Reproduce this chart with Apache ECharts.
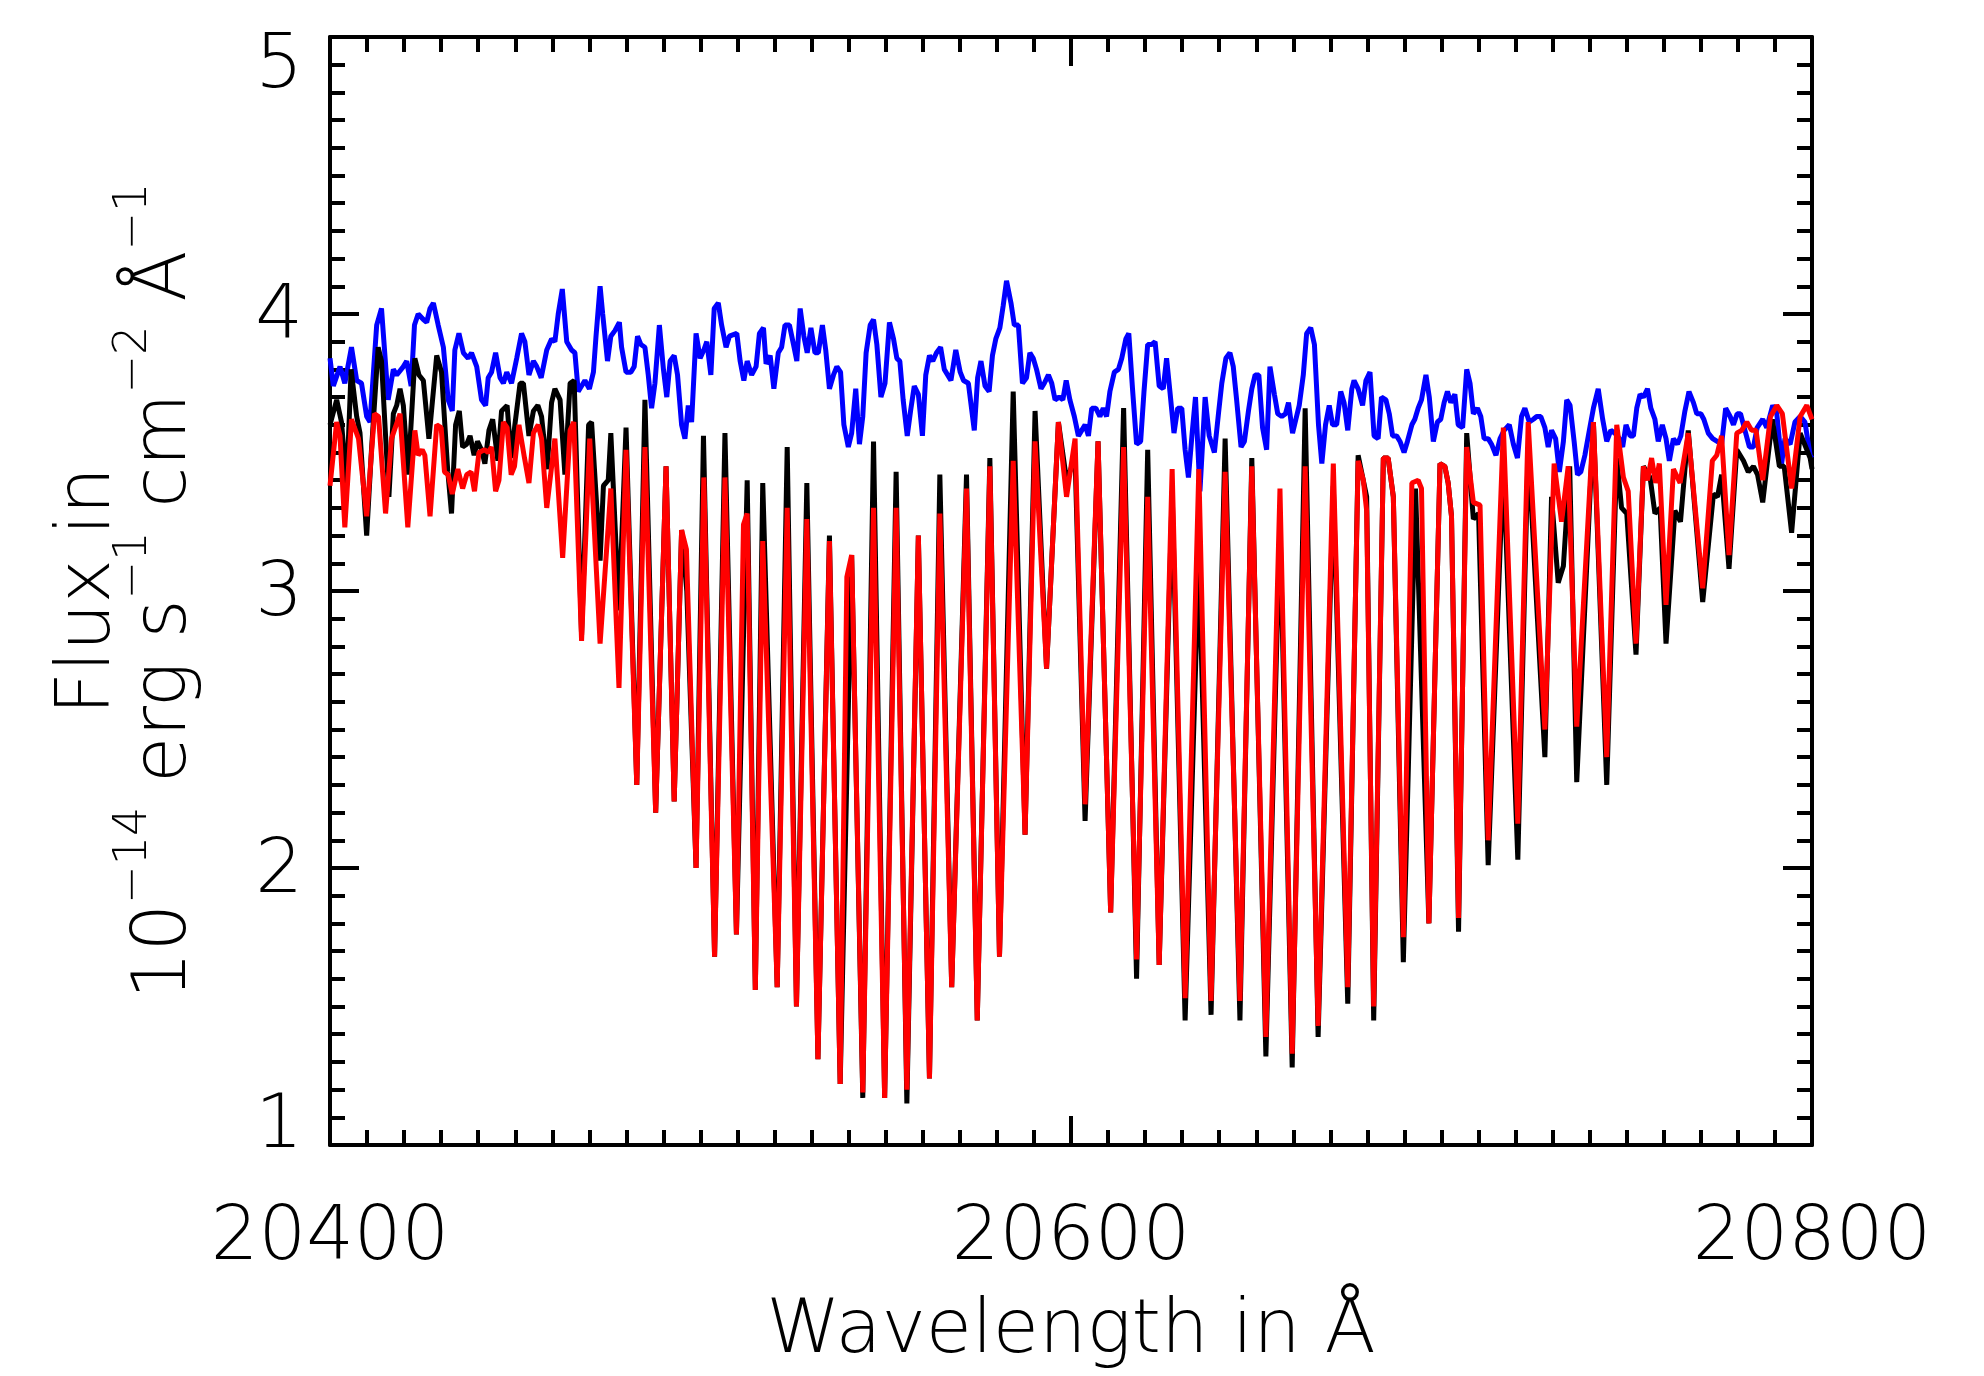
<!DOCTYPE html>
<html>
<head>
<meta charset="utf-8">
<script src="https://cdn.jsdelivr.net/npm/echarts@6/dist/echarts.min.js"></script>
<style>
html,body{margin:0;padding:0;background:#fff;}
#chart{width:1984px;height:1376px;}
</style>
</head>
<body>
<div id="chart"></div>
<script>
// ---------------- data (wavelength in Å, flux in 1e-14 erg s^-1 cm^-2 Å^-1) ----------------
const xRange = [20400, 20800];
const yRange = [1, 5];
const xTickStep = 200;
const yTickStep = 1;

const blueSpectrum = [
[20400.0,3.84],[20400.9,3.74],[20402.7,3.81],[20404.0,3.75],[20405.8,3.88],[20407.2,3.76],[20408.5,3.75],[20409.9,3.63],
[20410.8,3.61],[20412.6,3.96],[20413.9,4.02],[20415.7,3.69],[20417.1,3.80],[20418.0,3.78],[20419.8,3.81],[20420.7,3.83],
[20421.9,3.74],[20422.8,3.96],[20423.8,4.00],[20425.2,3.98],[20426.1,3.97],[20427.0,4.02],[20427.9,4.04],[20429.2,3.96],
[20430.6,3.88],[20431.9,3.69],[20433.0,3.65],[20433.7,3.87],[20434.8,3.93],[20436.0,3.86],[20437.3,3.84],[20438.2,3.86],
[20439.6,3.81],[20440.9,3.69],[20442.0,3.67],[20442.7,3.77],[20443.6,3.79],[20444.7,3.86],[20445.9,3.77],[20446.8,3.75],
[20447.7,3.79],[20449.0,3.75],[20450.4,3.84],[20451.7,3.93],[20452.6,3.90],[20453.7,3.78],[20454.9,3.83],[20455.8,3.81],
[20457.0,3.77],[20458.5,3.87],[20459.8,3.91],[20460.7,3.90],[20461.6,4.00],[20462.7,4.09],[20463.9,3.90],[20465.2,3.87],
[20466.1,3.86],[20467.0,3.72],[20468.8,3.76],[20470.0,3.73],[20471.1,3.79],[20471.8,3.92],[20472.9,4.10],[20473.6,4.00],
[20474.9,3.83],[20475.8,3.92],[20476.9,3.94],[20478.1,3.97],[20478.7,3.88],[20479.9,3.79],[20481.2,3.79],[20482.1,3.81],
[20483.0,3.92],[20483.9,3.89],[20485.0,3.88],[20485.9,3.78],[20486.8,3.66],[20487.7,3.75],[20488.9,3.96],[20490.0,3.80],
[20490.9,3.70],[20491.8,3.83],[20492.9,3.85],[20493.8,3.78],[20494.9,3.60],[20495.8,3.55],[20496.7,3.67],[20497.6,3.61],
[20498.8,3.93],[20499.9,3.84],[20500.9,3.87],[20501.7,3.90],[20502.8,3.78],[20503.7,4.02],[20504.8,4.04],[20505.7,3.96],
[20506.9,3.88],[20507.8,3.92],[20509.8,3.93],[20510.7,3.83],[20511.7,3.76],[20512.6,3.83],[20513.8,3.78],[20515.0,3.81],
[20515.9,3.93],[20517.0,3.95],[20517.7,3.82],[20518.8,3.85],[20519.8,3.73],[20521.0,3.86],[20521.9,3.88],[20522.8,3.96],
[20524.0,3.96],[20525.1,3.89],[20526.0,3.83],[20526.9,4.02],[20527.9,3.92],[20528.8,3.86],[20529.8,3.95],[20530.9,3.86],
[20531.8,3.86],[20532.9,3.96],[20533.8,3.87],[20534.8,3.73],[20535.9,3.78],[20536.8,3.81],[20537.8,3.79],[20538.7,3.60],
[20539.9,3.52],[20540.8,3.57],[20541.9,3.73],[20542.9,3.53],[20543.8,3.63],[20544.7,3.86],[20545.8,3.96],[20546.7,3.98],
[20547.6,3.89],[20548.7,3.70],[20549.8,3.75],[20551.0,3.97],[20552.1,3.91],[20553.0,3.84],[20553.8,3.83],[20554.7,3.69],
[20555.8,3.56],[20556.7,3.65],[20557.7,3.74],[20558.8,3.71],[20559.9,3.56],[20560.8,3.78],[20561.8,3.85],[20562.7,3.83],
[20563.7,3.86],[20564.8,3.88],[20565.8,3.80],[20567.6,3.76],[20568.9,3.87],[20570.1,3.79],[20571.0,3.76],[20572.3,3.75],
[20573.9,3.58],[20574.8,3.77],[20575.7,3.83],[20576.8,3.74],[20577.9,3.72],[20578.8,3.85],[20579.7,3.91],[20580.8,3.95],
[20581.7,4.03],[20582.6,4.12],[20583.8,4.04],[20584.7,3.96],[20585.8,3.96],[20586.9,3.75],[20588.0,3.77],[20588.9,3.86],
[20589.8,3.84],[20590.7,3.80],[20591.9,3.73],[20592.8,3.75],[20593.9,3.78],[20594.8,3.75],[20595.7,3.69],[20596.8,3.70],
[20597.8,3.69],[20598.7,3.76],[20599.7,3.69],[20600.9,3.63],[20602.0,3.56],[20602.9,3.58],[20603.8,3.60],[20604.7,3.56],
[20605.6,3.66],[20606.7,3.66],[20607.8,3.63],[20608.7,3.66],[20609.6,3.63],[20610.5,3.72],[20611.7,3.79],[20612.8,3.80],
[20613.7,3.84],[20614.8,3.91],[20615.6,3.93],[20616.6,3.73],[20617.7,3.53],[20618.8,3.54],[20619.7,3.72],[20620.7,3.89],
[20621.8,3.89],[20622.7,3.90],[20623.8,3.74],[20624.9,3.73],[20625.8,3.84],[20626.7,3.72],[20627.8,3.57],[20628.8,3.66],
[20629.9,3.66],[20630.8,3.51],[20631.7,3.41],[20632.7,3.57],[20633.6,3.70],[20634.8,3.36],[20636.2,3.70],[20637.3,3.56],
[20638.7,3.50],[20639.8,3.64],[20640.7,3.75],[20641.8,3.84],[20642.9,3.86],[20643.8,3.81],[20644.7,3.69],[20645.9,3.52],
[20646.8,3.54],[20647.9,3.65],[20648.8,3.73],[20649.7,3.78],[20650.7,3.78],[20651.7,3.59],[20652.8,3.51],[20653.7,3.81],
[20654.9,3.71],[20655.8,3.64],[20656.9,3.63],[20657.9,3.64],[20658.7,3.68],[20659.8,3.57],[20660.7,3.62],[20661.6,3.67],
[20662.7,3.78],[20663.6,3.93],[20664.7,3.95],[20665.7,3.89],[20666.8,3.60],[20667.7,3.46],[20668.7,3.60],[20669.7,3.67],
[20670.6,3.60],[20671.7,3.60],[20672.8,3.72],[20673.7,3.68],[20674.7,3.58],[20675.8,3.73],[20676.4,3.76],[20677.5,3.73],
[20678.7,3.67],[20679.6,3.76],[20680.7,3.79],[20681.8,3.56],[20682.9,3.55],[20683.8,3.70],[20685.0,3.69],[20685.9,3.64],
[20686.8,3.56],[20687.9,3.56],[20688.8,3.54],[20689.9,3.50],[20690.8,3.54],[20692.0,3.60],[20692.8,3.62],[20693.7,3.66],
[20694.6,3.69],[20695.8,3.78],[20696.7,3.70],[20697.8,3.54],[20698.9,3.61],[20699.8,3.62],[20700.7,3.68],[20701.6,3.72],
[20702.5,3.68],[20703.6,3.71],[20704.5,3.60],[20705.7,3.59],[20706.8,3.80],[20707.7,3.75],[20708.6,3.64],[20709.7,3.66],
[20710.6,3.63],[20711.5,3.55],[20712.6,3.55],[20713.5,3.53],[20714.7,3.49],[20715.8,3.55],[20716.9,3.58],[20718.3,3.60],
[20719.4,3.53],[20720.5,3.48],[20721.6,3.63],[20722.5,3.66],[20723.7,3.61],[20724.8,3.62],[20725.7,3.63],[20726.8,3.63],
[20727.9,3.59],[20728.8,3.52],[20729.7,3.58],[20730.8,3.55],[20731.8,3.43],[20732.9,3.54],[20733.8,3.69],[20734.7,3.67],
[20735.8,3.54],[20736.7,3.42],[20737.6,3.43],[20738.7,3.49],[20739.9,3.58],[20741.0,3.66],[20742.3,3.73],[20743.5,3.62],
[20744.6,3.54],[20745.7,3.58],[20746.8,3.57],[20748.0,3.55],[20748.9,3.52],[20749.8,3.60],[20750.9,3.56],[20751.8,3.56],
[20752.7,3.66],[20753.6,3.71],[20754.5,3.70],[20755.6,3.73],[20756.5,3.66],[20757.6,3.62],[20758.5,3.54],[20759.6,3.60],
[20760.6,3.55],[20761.5,3.47],[20762.6,3.55],[20763.7,3.53],[20764.6,3.56],[20765.7,3.65],[20766.8,3.72],[20768.0,3.68],
[20768.9,3.64],[20770.0,3.64],[20770.8,3.62],[20772.0,3.57],[20773.2,3.55],[20774.4,3.54],[20775.6,3.53],[20776.7,3.66],
[20777.9,3.63],[20778.8,3.60],[20779.8,3.64],[20780.7,3.64],[20781.9,3.58],[20783.1,3.52],[20784.2,3.52],[20785.2,3.59],
[20786.7,3.62],[20787.8,3.59],[20789.4,3.67],[20790.5,3.64],[20791.8,3.46],[20792.7,3.55],[20794.1,3.53],[20795.4,3.61],
[20796.8,3.63],[20798.1,3.61],[20799.5,3.49],[20800.0,3.48]
];

const blackSpectrum = [
[20400.0,3.60],[20401.8,3.69],[20403.1,3.61],[20404.5,3.38],[20405.7,3.80],[20407.2,3.63],[20408.1,3.57],[20409.9,3.20],
[20411.2,3.51],[20413.0,3.88],[20413.9,3.83],[20415.9,3.34],[20417.1,3.64],[20418.0,3.67],[20418.9,3.73],[20419.8,3.67],
[20421.1,3.42],[20422.9,3.84],[20424.0,3.78],[20425.2,3.76],[20426.7,3.55],[20428.8,3.85],[20430.1,3.79],[20431.8,3.43],
[20432.8,3.28],[20433.9,3.60],[20434.9,3.65],[20435.8,3.52],[20436.9,3.53],[20437.8,3.56],[20438.9,3.49],[20439.8,3.54],
[20440.9,3.51],[20441.8,3.46],[20442.9,3.58],[20443.9,3.62],[20445.3,3.47],[20446.3,3.65],[20447.8,3.67],[20448.9,3.48],
[20449.9,3.60],[20451.3,3.75],[20452.2,3.75],[20453.7,3.56],[20454.9,3.65],[20456.1,3.67],[20457.1,3.63],[20458.6,3.44],
[20459.8,3.68],[20460.7,3.73],[20462.1,3.69],[20463.4,3.42],[20464.8,3.75],[20465.9,3.76],[20467.9,2.84],[20469.8,3.60],
[20470.6,3.61],[20472.9,3.11],[20473.8,3.38],[20475.1,3.40],[20475.8,3.57],[20478.0,2.93],[20479.9,3.59],[20482.8,2.30],
[20485.0,3.69],[20487.9,2.20],[20490.7,3.45],[20492.9,2.24],[20494.9,3.22],[20496.3,3.00],[20498.8,2.00],[20500.8,3.56],
[20503.8,1.68],[20506.6,3.57],[20509.7,1.76],[20512.6,3.40],[20514.8,1.56],[20516.8,3.39],[20520.7,1.57],[20523.4,3.52],
[20525.9,1.50],[20528.7,3.39],[20531.7,1.31],[20534.8,3.20],[20537.7,1.22],[20540.8,3.13],[20543.8,1.17],[20546.7,3.54],
[20549.7,1.17],[20552.8,3.43],[20555.7,1.15],[20558.8,3.20],[20561.8,1.24],[20564.6,3.42],[20567.8,1.57],[20571.8,3.42],
[20574.7,1.45],[20578.1,3.48],[20580.7,1.68],[20584.4,3.72],[20587.6,2.12],[20590.3,3.65],[20593.4,2.72],[20596.6,3.61],
[20598.8,3.40],[20601.1,3.48],[20603.8,2.17],[20607.3,3.54],[20610.7,1.84],[20614.2,3.66],[20617.7,1.60],[20620.7,3.51],
[20623.8,1.65],[20627.3,3.36],[20630.8,1.45],[20634.5,3.12],[20637.8,1.47],[20641.6,3.55],[20645.6,1.45],[20648.8,3.48],
[20652.6,1.32],[20656.4,3.25],[20659.7,1.28],[20663.2,3.66],[20666.7,1.39],[20670.8,3.38],[20674.7,1.51],[20677.5,3.49],
[20679.8,3.34],[20681.7,1.45],[20684.3,3.48],[20685.6,3.48],[20687.0,3.34],[20689.7,1.66],[20693.0,3.37],[20696.6,1.80],
[20699.6,3.46],[20700.9,3.45],[20701.8,3.39],[20702.7,3.27],[20704.6,1.77],[20706.8,3.57],[20708.6,3.26],[20710.0,3.28],
[20712.6,2.01],[20716.7,3.46],[20720.6,2.03],[20723.4,3.52],[20727.9,2.40],[20729.7,3.34],[20731.5,3.03],[20732.9,3.09],
[20734.6,3.45],[20736.5,2.31],[20741.0,3.61],[20744.6,2.30],[20747.3,3.48],[20748.6,3.30],[20750.0,3.28],[20752.5,2.77],
[20754.5,3.45],[20756.3,3.41],[20757.6,3.28],[20759.0,3.30],[20760.6,2.81],[20763.0,3.29],[20764.5,3.25],[20766.6,3.58],
[20770.5,2.96],[20773.4,3.35],[20774.5,3.34],[20775.6,3.42],[20777.6,3.08],[20779.7,3.51],[20781.5,3.47],[20782.8,3.43],
[20784.2,3.45],[20785.3,3.42],[20786.7,3.32],[20789.3,3.62],[20791.2,3.45],[20792.5,3.45],[20794.5,3.21],[20796.8,3.57],
[20799.5,3.48],[20800.0,3.44]
];

const redSpectrum = [
[20400.0,3.38],[20401.8,3.61],[20402.7,3.56],[20404.0,3.23],[20405.8,3.62],[20407.7,3.55],[20409.9,3.27],[20412.0,3.64],
[20413.1,3.63],[20415.0,3.28],[20416.6,3.55],[20418.9,3.64],[20421.0,3.23],[20422.9,3.58],[20423.8,3.49],[20424.9,3.51],
[20425.6,3.49],[20427.0,3.27],[20428.8,3.60],[20430.0,3.59],[20430.9,3.43],[20431.9,3.42],[20433.0,3.35],[20434.5,3.44],
[20435.8,3.37],[20436.9,3.42],[20438.1,3.43],[20439.0,3.36],[20440.2,3.50],[20441.7,3.51],[20442.7,3.50],[20443.6,3.52],
[20444.7,3.36],[20445.6,3.40],[20446.8,3.61],[20447.8,3.59],[20448.9,3.42],[20449.8,3.45],[20451.0,3.60],[20452.5,3.48],
[20453.7,3.39],[20454.9,3.57],[20456.2,3.60],[20457.1,3.55],[20458.5,3.30],[20460.7,3.55],[20462.8,3.12],[20464.8,3.58],
[20465.8,3.61],[20467.9,2.82],[20470.1,3.55],[20472.9,2.81],[20475.8,3.37],[20478.0,2.65],[20479.9,3.51],[20482.8,2.30],
[20485.0,3.52],[20487.9,2.20],[20490.7,3.45],[20492.9,2.24],[20494.9,3.22],[20496.2,3.15],[20498.8,2.00],[20500.9,3.41],
[20503.8,1.68],[20506.6,3.41],[20509.7,1.76],[20511.6,3.24],[20512.6,3.28],[20514.8,1.56],[20516.8,3.18],[20520.7,1.57],
[20523.4,3.30],[20525.9,1.50],[20528.7,3.26],[20531.7,1.31],[20534.8,3.18],[20537.7,1.22],[20539.5,3.05],[20540.8,3.13],
[20543.8,1.19],[20546.7,3.30],[20549.7,1.17],[20552.8,3.30],[20555.7,1.20],[20558.8,3.20],[20561.8,1.24],[20564.6,3.28],
[20567.8,1.57],[20571.8,3.37],[20574.7,1.45],[20578.1,3.45],[20580.7,1.68],[20584.4,3.47],[20587.6,2.12],[20590.3,3.54],
[20593.4,2.72],[20596.6,3.61],[20598.8,3.34],[20601.1,3.55],[20603.8,2.23],[20607.3,3.54],[20610.7,1.84],[20614.2,3.52],
[20617.7,1.67],[20620.7,3.34],[20623.8,1.65],[20627.3,3.44],[20630.8,1.53],[20634.5,3.44],[20637.8,1.52],[20641.6,3.43],
[20645.6,1.52],[20648.8,3.45],[20652.6,1.39],[20656.4,3.37],[20659.7,1.33],[20663.2,3.45],[20666.7,1.43],[20670.8,3.46],
[20674.7,1.57],[20677.5,3.47],[20678.9,3.40],[20679.8,3.29],[20681.7,1.50],[20684.3,3.48],[20685.6,3.48],[20687.0,3.34],
[20689.7,1.75],[20692.0,3.39],[20693.7,3.40],[20694.6,3.37],[20696.6,1.80],[20699.6,3.46],[20700.9,3.45],[20701.8,3.39],
[20702.7,3.27],[20704.6,1.82],[20706.8,3.52],[20708.6,3.32],[20710.4,3.31],[20712.6,2.10],[20716.7,3.59],[20720.6,2.16],
[20723.4,3.61],[20727.9,2.50],[20730.4,3.46],[20732.4,3.25],[20734.2,3.45],[20736.5,2.51],[20741.0,3.61],[20744.6,2.40],
[20747.3,3.60],[20749.1,3.41],[20750.4,3.36],[20752.5,2.81],[20754.5,3.45],[20755.6,3.40],[20756.7,3.48],[20757.8,3.39],
[20758.8,3.46],[20760.6,2.95],[20762.6,3.44],[20764.4,3.39],[20766.6,3.57],[20770.5,3.01],[20773.1,3.47],[20774.3,3.49],
[20775.6,3.56],[20777.6,3.13],[20779.7,3.57],[20781.0,3.58],[20782.4,3.61],[20783.7,3.58],[20784.9,3.58],[20786.7,3.40],
[20788.8,3.63],[20790.5,3.67],[20792.0,3.64],[20794.5,3.37],[20796.8,3.63],[20798.6,3.67],[20800.0,3.62]
];

const xAxisTitle = 'Wavelength in Å';
// y title: "Flux in" / 10^-14 erg s^-1 cm^-2 Å^-1
const yAxisTitleRich = '{a|Flux in}\n{b|10}{s|\u221214}{b| erg s}{s|\u22121}{b| cm}{s|\u22122}{b| Å}{s|\u22121}';

// ---------------- chart ----------------
const FONT = 'DejaVu Sans';
const FW = 300;
const black = '#000000';
const frameLine = { color: black, width: 4 };
const tickLine = { color: black, width: 4 };

function frameXAxis(pos, withLabels) {
  return {
    type: 'value', position: pos, min: xRange[0], max: xRange[1], interval: xTickStep,
    axisLine: { show: true, onZero: false, lineStyle: frameLine },
    axisTick: { show: true, inside: true, length: 29, lineStyle: tickLine },
    minorTick: { show: true, splitNumber: 20, length: 15, lineStyle: tickLine },
    splitLine: { show: false }, minorSplitLine: { show: false },
    axisLabel: withLabels ? {
      show: true, margin: 57, color: black, fontFamily: FONT, fontWeight: FW, fontSize: 75, lineHeight: 75,
      formatter: v => String(v)
    } : { show: false },
    nameMoveOverlap: false
  };
}
function frameYAxis(pos, withLabels) {
  return {
    type: 'value', position: pos, min: yRange[0], max: yRange[1], interval: yTickStep,
    axisLine: { show: true, onZero: false, lineStyle: frameLine },
    axisTick: { show: true, inside: true, length: 29, lineStyle: tickLine },
    minorTick: { show: true, splitNumber: 10, length: 15, lineStyle: tickLine },
    splitLine: { show: false }, minorSplitLine: { show: false },
    axisLabel: withLabels ? {
      show: true, margin: 27, color: black, fontFamily: FONT, fontWeight: FW, fontSize: 75, lineHeight: 75,
      formatter: v => (v === yRange[1] ? '{t|' + v + '}' : (v === yRange[0] ? '{d|' + v + '}' : '{n|' + v + '}')),
      rich: {
        n: { fontFamily: FONT, fontWeight: FW, fontSize: 75, lineHeight: 75, color: black, padding: [10, 0, 0, 0] },
        t: { fontFamily: FONT, fontWeight: FW, fontSize: 75, lineHeight: 75, color: black, padding: [62, 0, 0, 0] },
        d: { fontFamily: FONT, fontWeight: FW, fontSize: 75, lineHeight: 75, color: black, padding: [0, 0, 34, 0] }
      }
    } : { show: false },
    nameMoveOverlap: false
  };
}

const xBottom = frameXAxis('bottom', true);
xBottom.name = xAxisTitle;
xBottom.nameLocation = 'middle';
xBottom.nameGap = 150;
xBottom.nameTextStyle = { color: black, fontFamily: FONT, fontWeight: FW, fontSize: 75, lineHeight: 75 };

const yLeft = frameYAxis('left', true);
yLeft.name = yAxisTitleRich;
yLeft.nameLocation = 'middle';
yLeft.nameRotate = 90;
yLeft.nameGap = 127;
yLeft.nameTextStyle = {
  color: black, fontFamily: FONT, fontWeight: FW, fontSize: 75,
  rich: {
    a: { fontFamily: FONT, fontWeight: FW, fontSize: 75, lineHeight: 43, color: black },
    b: { fontFamily: FONT, fontWeight: FW, fontSize: 75, lineHeight: 92, color: black, verticalAlign: 'bottom' },
    s: { fontFamily: FONT, fontWeight: FW, fontSize: 46, lineHeight: 46, color: black, verticalAlign: 'top' }
  }
};

function spectrumSeries(name, data, color) {
  return {
    name: name, type: 'line', data: data, xAxisIndex: 0, yAxisIndex: 0,
    showSymbol: false, symbol: 'none', smooth: false, clip: true,
    lineStyle: { color: color, width: 5, join: 'bevel' },
    emphasis: { disabled: true }
  };
}

const chart = echarts.init(document.getElementById('chart'), null, { renderer: 'canvas' });
chart.setOption({
  animation: false,
  backgroundColor: '#ffffff',
  grid: { left: 330, right: 172, top: 37, bottom: 231, containLabel: false, outerBoundsMode: 'none' },
  xAxis: [xBottom, frameXAxis('top', false)],
  yAxis: [yLeft, frameYAxis('right', false)],
  series: [
    spectrumSeries('blue spectrum', blueSpectrum, '#0000ff'),
    spectrumSeries('black spectrum', blackSpectrum, '#000000'),
    spectrumSeries('red spectrum', redSpectrum, '#ff0000')
  ]
});
</script>
</body>
</html>
